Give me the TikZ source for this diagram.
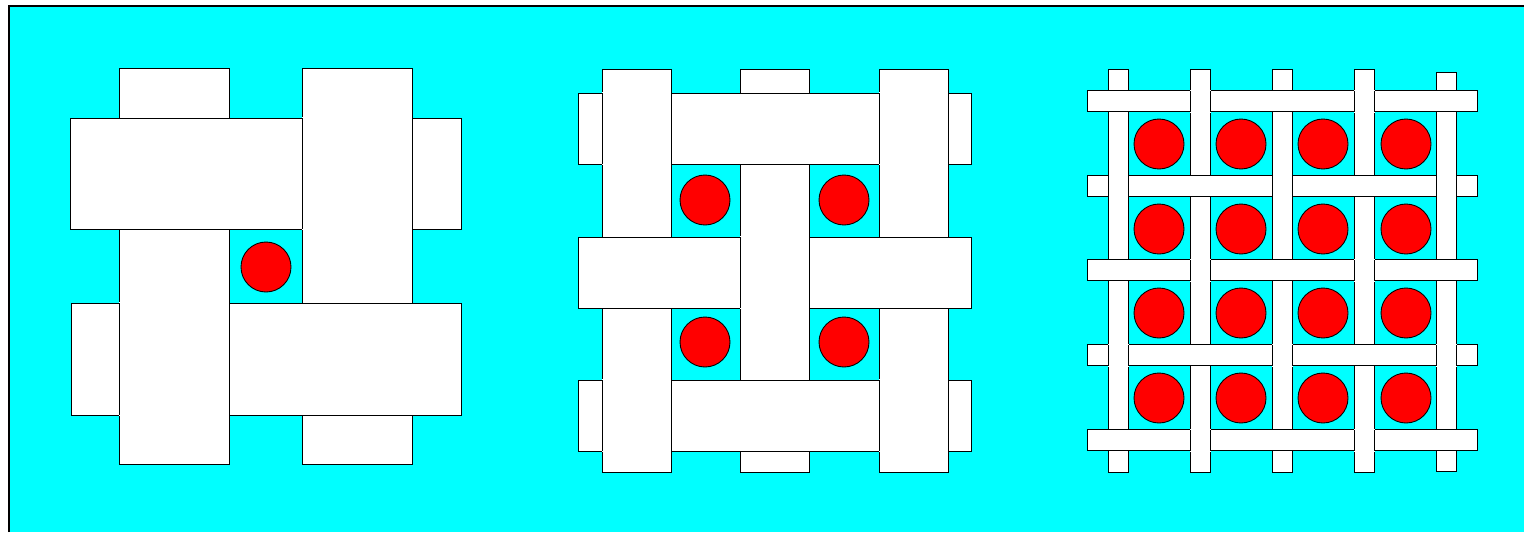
\documentclass[tikz,border=0pt]{standalone}
\definecolor{pool}{RGB}{0,255,255}
\tikzset{strip/.style={fill=white,draw=black,line width=.5pt},
  seed/.style={fill=red,draw=black,line width=.5pt}}
% vertical strip laid over a horizontal one: no edges across it
\newcommand{\crossover}[4]{\fill[white] (#1,#2-.7) rectangle (#3,#4+.7);
  \draw[line width=.5pt] (#1,#2)--(#1,#4) (#3,#2)--(#3,#4);}
\begin{document}
\begin{tikzpicture}[x=.02cm,y=-.02cm]
\useasboundingbox (0,0) rectangle (1524,532);
\fill[pool] (9,6) rectangle (1524,532);\draw[line width=.6pt] (9,532)--(9,6)--(1524,6);
% coarse weave, one pore
\draw[strip] (119,68) rectangle (229,464);\draw[strip] (302,68) rectangle (412,464);
\draw[strip] (70,118) rectangle (461,229);\draw[strip] (71,303) rectangle (461,415);
\crossover{119}{303}{229}{415}\crossover{302}{118}{412}{229}
\draw[seed] (266,267) circle[radius=25];
% medium weave, four pores
\foreach \xv in {602,740,879}{\draw[strip] (\xv,69) rectangle ++(69,403);}
\foreach \yh in {93,237,380}{\draw[strip] (578,\yh) rectangle ++(393,71);}
\foreach \xv [count=\i] in {602,740,879}{\foreach \yh [count=\j] in {93,237,380}{\ifodd\numexpr\i+\j\relax\else\crossover{\xv}{\yh}{\xv+69}{\yh+71}\fi}}
\foreach \xc in {705,844}{\foreach \yc in {200,342}{\draw[seed] (\xc,\yc) circle[radius=25];}}
% fine weave, sixteen pores
\foreach \xv/\ya/\yb in {1108/69/472,1190/69/472,1272/69/472,1354/69/472,1436/72/471}{\draw[strip] (\xv,\ya) rectangle (\xv+20.5,\yb);}
\foreach \yh in {90.7,175.3,259.7,344.7,429.7}{\draw[strip] (1087,\yh) rectangle ++(390,21.2);}
\foreach \xv [count=\i] in {1108,1190,1272,1354,1436}{\foreach \yh [count=\j] in {90.7,175.3,259.7,344.7,429.7}{\ifodd\numexpr\i+\j\relax\crossover{\xv}{\yh}{\xv+20.5}{\yh+21.2}\fi}}
\foreach \xc in {1159,1241,1323,1406}{\foreach \yc in {144,229,313,398}{\draw[seed] (\xc,\yc) circle[radius=25];}}
\end{tikzpicture}
\end{document}
